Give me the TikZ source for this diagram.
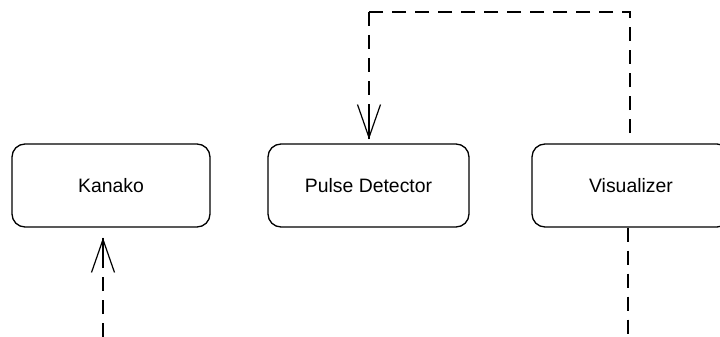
\documentclass[tikz,border=0pt]{standalone}
\usepackage{fontspec}
\setmainfont{Liberation Sans}
\usetikzlibrary{arrows.meta}
\begin{document}
\begin{tikzpicture}[x=1pt,y=-1pt,
  block/.style={draw, line width=1.3pt, rounded corners=13pt, minimum width=198pt,
    minimum height=83pt, inner sep=0pt, font=\fontsize{19.4}{22}\selectfont},
  flow/.style={line width=1.2pt, dash pattern=on 14pt off 9pt},
  tiponly/.style={line width=1.2pt, solid, -{Straight Barb[length=33pt,width=23pt]}}
]
\useasboundingbox (0,0) rectangle (720,337);

\node[block] (kanako) at (111,185.5) {Kanako};
\node[block, minimum width=201pt] (pulse) at (368.5,185.5) {Pulse Detector};
\node[block] (vis) at (631,185.5) {Visualizer};

% feedback loop from the visualizer back over the top
\coordinate (visup) at (630,133);
\coordinate (corner) at (630,12);
\coordinate (loopend) at (360,12);
\coordinate (drop) at (369,12);
\draw[flow] (visup) -- (corner) -- (loopend);
\draw[flow, shorten >=4pt] (drop) -- (drop |- pulse.north);
\draw[tiponly, shorten >=4pt, shorten <=100pt] (drop) -- (drop |- pulse.north);

% input into Kanako
\coordinate (kin) at (103,337);
\draw[flow, shorten >=10pt] (kin) -- (kin |- kanako.south);
\draw[tiponly, shorten >=10pt, shorten <=72pt] (kin) -- (kin |- kanako.south);

% output of the visualizer
\coordinate (vout) at (628,337);
\draw[flow] (vout |- vis.south) -- (vout);
\end{tikzpicture}
\end{document}
